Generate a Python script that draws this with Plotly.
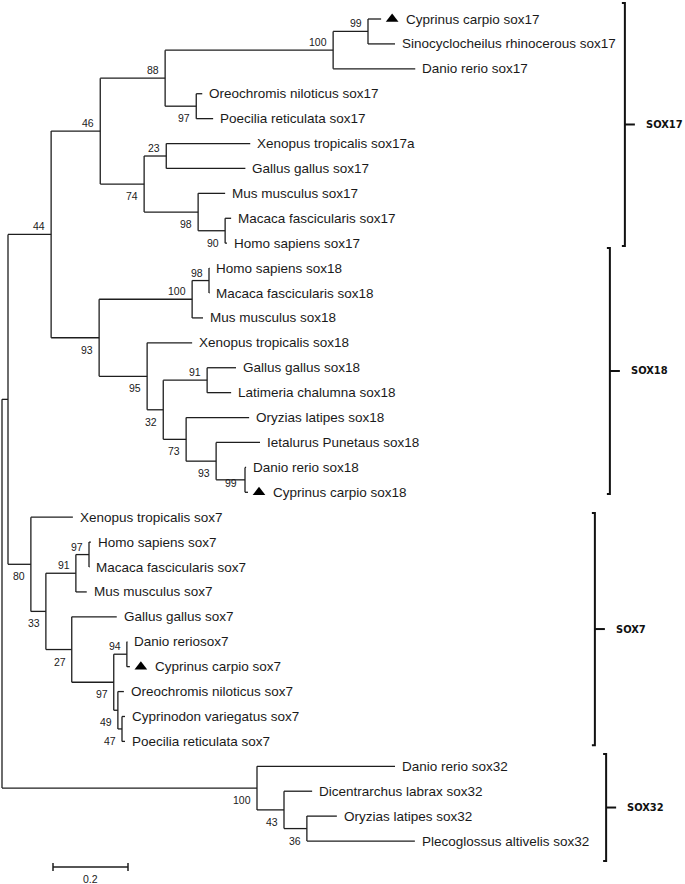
import plotly.graph_objects as go

# ---------------- tree data ----------------
node_name = [
    "root", "n0", "n44", "n46", "n88", "n100a", "n99a",
    "Cyprinus carpio sox17", "Sinocyclocheilus rhinocerous sox17", "Danio rerio sox17",
    "n97a", "Oreochromis niloticus sox17", "Poecilia reticulata sox17",
    "n74", "n23", "Xenopus tropicalis sox17a", "Gallus gallus sox17",
    "n98a", "Mus musculus sox17", "n90", "Macaca fascicularis sox17", "Homo sapiens sox17",
    "n93a", "n100b", "n98b", "Homo sapiens sox18", "Macaca fascicularis sox18", "Mus musculus sox18",
    "n95", "Xenopus tropicalis sox18", "n32", "n91a", "Gallus gallus sox18", "Latimeria chalumna sox18",
    "n73", "Oryzias latipes sox18", "n93b", "Ietalurus Punetaus sox18", "n99b",
    "Danio rerio sox18", "Cyprinus carpio sox18",
    "n80", "Xenopus tropicalis sox7", "n33", "n91b", "n97b", "Homo sapiens sox7",
    "Macaca fascicularis sox7", "Mus musculus sox7", "n27", "Gallus gallus sox7",
    "n97c", "n94", "Danio reriosox7", "Cyprinus carpio sox7", "n49",
    "Oreochromis niloticus sox7", "n47", "Cyprinodon variegatus sox7", "Poecilia reticulata sox7",
    "n100c", "Danio rerio sox32", "n43", "Dicentrarchus labrax sox32", "n36",
    "Oryzias latipes sox32", "Plecoglossus altivelis sox32",
]
node_parent = [
    None, "root", "n0", "n44", "n46", "n88", "n100a",
    "n99a", "n99a", "n100a",
    "n88", "n97a", "n97a",
    "n46", "n74", "n23", "n23",
    "n74", "n98a", "n98a", "n90", "n90",
    "n44", "n93a", "n100b", "n98b", "n98b", "n100b",
    "n93a", "n95", "n95", "n32", "n91a", "n91a",
    "n32", "n73", "n73", "n93b", "n93b",
    "n99b", "n99b",
    "n0", "n80", "n80", "n33", "n91b", "n97b",
    "n97b", "n91b", "n33", "n27",
    "n27", "n97c", "n94", "n94", "n97c",
    "n49", "n49", "n47", "n47",
    "root", "n100c", "n100c", "n43", "n43",
    "n36", "n36",
]
branch_length = [
    0.0, 0.016, 0.115, 0.131, 0.173, 0.448, 0.093,
    0.035, 0.072, 0.219,
    0.083, 0.016, 0.045,
    0.117, 0.059, 0.224, 0.211,
    0.144, 0.072, 0.072, 0.016, 0.005,
    0.128, 0.248, 0.045, 0.001, 0.001, 0.029,
    0.128, 0.120, 0.043, 0.117, 0.077, 0.064,
    0.061, 0.168, 0.080, 0.117, 0.077,
    0.003, 0.008,
    0.061, 0.112, 0.040, 0.080, 0.035, 0.005,
    0.001, 0.029, 0.069, 0.120,
    0.112, 0.035, 0.001, 0.008, 0.011,
    0.016, 0.011, 0.008, 0.008,
    0.680, 0.368, 0.072, 0.075, 0.061,
    0.080, 0.288,
]
bootstrap = {
    "n44": 44, "n46": 46, "n88": 88, "n100a": 100, "n99a": 99, "n97a": 97,
    "n74": 74, "n23": 23, "n98a": 98, "n90": 90,
    "n93a": 93, "n100b": 100, "n98b": 98, "n95": 95, "n32": 32, "n91a": 91,
    "n73": 73, "n93b": 93, "n99b": 99,
    "n80": 80, "n33": 33, "n91b": 91, "n97b": 97, "n27": 27, "n97c": 97,
    "n94": 94, "n49": 49, "n47": 47,
    "n100c": 100, "n43": 43, "n36": 36,
}
bootstrap_side = {
    "n44": "a", "n46": "a", "n88": "a", "n100a": "a", "n99a": "a", "n97a": "b",
    "n74": "b", "n23": "a", "n98a": "b", "n90": "b",
    "n93a": "b", "n100b": "a", "n98b": "a", "n95": "b", "n32": "b", "n91a": "a",
    "n73": "b", "n93b": "b", "n99b": "l",
    "n80": "b", "n33": "b", "n91b": "a", "n97b": "a", "n27": "b", "n97c": "b",
    "n94": "a", "n49": "b", "n47": "b",
    "n100c": "b", "n43": "b", "n36": "b",
}
marked_leaves = ["Cyprinus carpio sox17", "Cyprinus carpio sox18", "Cyprinus carpio sox7"]

clade_names = ["SOX17", "SOX18", "SOX7", "SOX32"]
clade_top = [-0.64, 9.19, 19.83, 29.51]      # in leaf-row units
clade_bottom = [9.11, 19.07, 29.15, 33.80]
clade_bracket_x = [1.661, 1.621, 1.581, 1.611]  # in substitution units

scale_bar_length = 0.2
scale_bar_label = "0.2"

# ---------------- layout geometry ----------------
W, H = 685, 884
X_MIN, X_MAX = -2 / 375, 683 / 375
ROW_PX = 24.91
Y_TOP, Y_BOTTOM = -19 / ROW_PX, (H - 19) / ROW_PX
PX = (X_MAX - X_MIN) / W  # data units per pixel (x)

# ---------------- compute tree layout ----------------
children = {n: [] for n in node_name}
for n, p in zip(node_name, node_parent):
    if p is not None:
        children[p].append(n)
blen = dict(zip(node_name, branch_length))
xpos, ypos = {}, {}
leaf_counter = [0]


def place(n, x0):
    xpos[n] = x0
    for c in children[n]:
        place(c, x0 + blen[c])
    if children[n]:
        ys = [ypos[c] for c in children[n]]
        ypos[n] = (ys[0] + ys[-1]) / 2
    else:
        ypos[n] = leaf_counter[0]
        leaf_counter[0] += 1


place("root", 0.0)

lx, ly = [], []
for n, p in zip(node_name, node_parent):
    if p is not None:
        lx += [xpos[p], xpos[n], None]
        ly += [ypos[n], ypos[n], None]
    if children[n]:
        lx += [xpos[n], xpos[n], None]
        ly += [ypos[children[n][0]], ypos[children[n][-1]], None]

LINE = "#1e1e1e"
fig = go.Figure()
fig.add_trace(go.Scatter(x=lx, y=ly, mode="lines", line=dict(color=LINE, width=1.3),
                         hoverinfo="skip", showlegend=False))

# markers for marked leaves
fig.add_trace(go.Scatter(
    x=[xpos[n] + 11 * PX for n in marked_leaves],
    y=[ypos[n] for n in marked_leaves],
    mode="markers", marker=dict(symbol="triangle-up", size=11, color="black"),
    hoverinfo="skip", showlegend=False))

LEAF_FONT = dict(family="Liberation Sans, Arial, sans-serif", size=13.5, color="#1a1a1a")
SUP_FONT = dict(family="Liberation Sans, Arial, sans-serif", size=10.5, color="#1a1a1a")
annotations = []
for n in node_name:
    if not children[n]:
        annotations.append(dict(
            x=xpos[n], y=ypos[n], text=n, showarrow=False, xanchor="left", yanchor="middle",
            xshift=(23 if n in marked_leaves else 5), font=LEAF_FONT))
    elif n in bootstrap:
        side = bootstrap_side[n]
        ys = {"a": 8, "b": -12, "l": -3}[side]
        xs = -6 if side == "l" else -4
        annotations.append(dict(
            x=xpos[n], y=ypos[n], text=str(bootstrap[n]), showarrow=False,
            xanchor="right", yanchor="middle", xshift=xs, yshift=ys, font=SUP_FONT))

# clade brackets
bx, by = [], []
for name, t, b, x in zip(clade_names, clade_top, clade_bottom, clade_bracket_x):
    mid = (t + b) / 2
    bx += [x - 3 * PX, x, x, x - 3 * PX, None, x, x + 10 * PX, None]
    by += [t, t, b, b, None, mid, mid, None]
    annotations.append(dict(
        x=x, y=mid, text=f"<b>{name}</b>", showarrow=False, xanchor="left", yanchor="middle",
        xshift=19, font=dict(family="Liberation Sans Narrow, DejaVu Sans Condensed, Arial Narrow, sans-serif",
                             size=11, color="#111")))
fig.add_trace(go.Scatter(x=bx, y=by, mode="lines", line=dict(color="#111", width=2),
                         hoverinfo="skip", showlegend=False))

# scale bar
sb_x0 = 51 * PX
sb_y = (867 - 19) / ROW_PX
tick = 4 / ROW_PX
fig.add_trace(go.Scatter(
    x=[sb_x0, sb_x0 + scale_bar_length, None, sb_x0, sb_x0, None,
       sb_x0 + scale_bar_length, sb_x0 + scale_bar_length],
    y=[sb_y, sb_y, None, sb_y - tick, sb_y + tick, None, sb_y - tick, sb_y + tick],
    mode="lines", line=dict(color=LINE, width=1.5), hoverinfo="skip", showlegend=False))
annotations.append(dict(x=sb_x0 + scale_bar_length / 2, y=sb_y, text=scale_bar_label,
                        showarrow=False, xanchor="center", yanchor="middle", yshift=-12,
                        font=SUP_FONT))

fig.update_layout(
    width=W, height=H, margin=dict(l=0, r=0, t=0, b=0),
    paper_bgcolor="white", plot_bgcolor="white",
    xaxis=dict(range=[X_MIN, X_MAX], visible=False, fixedrange=True),
    yaxis=dict(range=[Y_BOTTOM, Y_TOP], visible=False, fixedrange=True),
    annotations=annotations, showlegend=False,
)
fig.write_html(
    "out.html",
    config={"displayModeBar": False},
    post_script="document.body.style.margin='0';document.body.style.overflow='hidden';",
)
